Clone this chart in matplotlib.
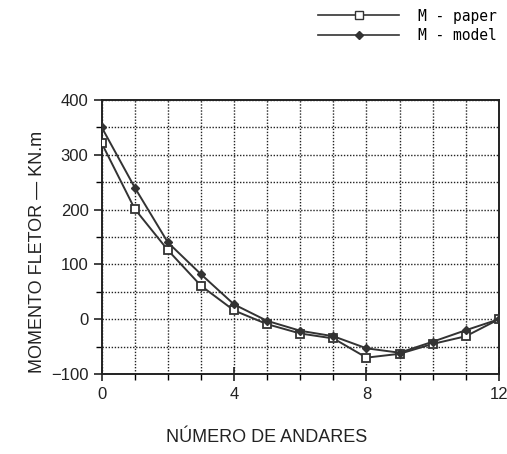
import numpy as np
import matplotlib
matplotlib.use("Agg")
import matplotlib.pyplot as plt
from matplotlib.lines import Line2D

andares = [0, 1, 2, 3, 4, 5, 6, 7, 8, 9, 10, 11, 12]
m_paper = [321, 201, 126, 61, 16, -9, -26, -35, -70, -63, -45, -31, 0]
m_model = [350, 240, 140, 82, 27, -3, -21, -31, -53, -61, -41, -20, 0]

plt.rcParams['font.family'] = ['Liberation Sans', 'DejaVu Sans']

fig = plt.figure(figsize=(5.07, 4.54), dpi=100)
ax = fig.add_axes([0.2006, 0.176, 0.7834, 0.604])

ax.plot(andares, m_paper, color='#333333', lw=1.4, marker='s', ms=5.5,
        mfc='white', mec='#333333', mew=1.3, zorder=3)
ax.plot(andares, m_model, color='#333333', lw=1.4, marker='D', ms=4.5,
        mfc='#333333', mec='#333333', zorder=4)

ax.set_xlim(0, 12)
ax.set_ylim(-100, 400)
ax.set_xticks([0, 4, 8, 12])
ax.set_xticks(np.arange(0, 13, 1), minor=True)
ax.set_yticks([-100, 0, 100, 200, 300, 400])
ax.set_yticks(np.arange(-100, 401, 50), minor=True)
ax.set_yticklabels(['\u2212100', '0', '100', '200', '300', '400'])
ax.grid(which='both', color='#222222', ls=(0, (1, 1.2)), lw=1.0)
ax.tick_params(which='major', direction='out', length=6, width=1.2,
               labelsize=12, colors='#222222')
ax.tick_params(which='minor', direction='out', length=4, width=1.0)
ax.tick_params(axis='x', which='major', direction='inout', length=10, pad=4)
for s in ax.spines.values():
    s.set_linewidth(1.4)
    s.set_color('#222222')

fig.text(267 / 507, 1 - 438 / 454, 'NÚMERO DE ANDARES', ha='center', va='center',
         fontsize=13, color='#222222')
fig.text(38 / 507, 1 - 252 / 454, 'MOMENTO FLETOR \u2014 KN.m', ha='center', va='center',
         rotation=90, fontsize=13, color='#222222')

handles = [
    Line2D([], [], color='#333333', lw=1.2, marker='s', ms=5.5, mfc='white', mec='#333333'),
    Line2D([], [], color='#333333', lw=1.2, marker='D', ms=4.5, mfc='#333333', mec='#333333'),
]
fig.legend(handles, ['M - paper', 'M - model'], loc='upper right',
           bbox_to_anchor=(1.005, 1.01), frameon=False, handlelength=5.5,
           handletextpad=1.3, labelspacing=0.3,
           prop={'family': 'DejaVu Sans Mono', 'size': 10.5})

fig.savefig('out.png', dpi=100)
